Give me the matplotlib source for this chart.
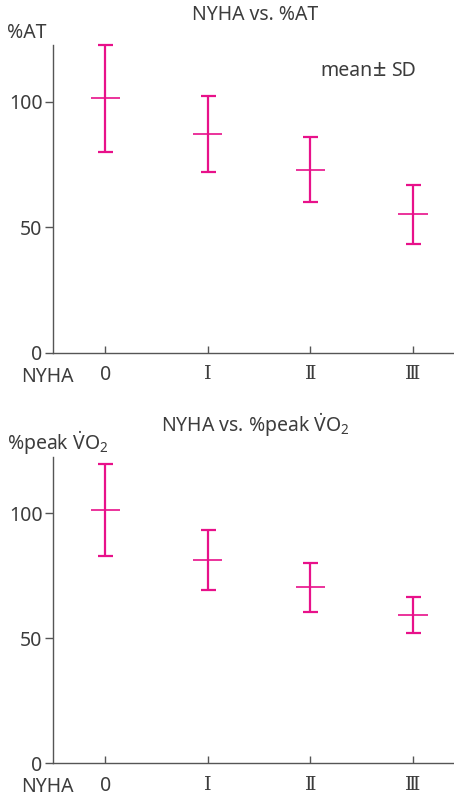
import matplotlib
matplotlib.use("Agg")
import matplotlib.pyplot as plt

plt.rcParams['font.family'] = ['Noto Sans', 'DejaVu Sans']
plt.rcParams['mathtext.fontset'] = 'custom'
plt.rcParams['mathtext.rm'] = 'Noto Sans'
plt.rcParams['mathtext.it'] = 'Noto Sans:italic'

# data
classes = ['0', 'Ⅰ', 'Ⅱ', 'Ⅲ']
at_mean = [101.5, 87.4, 73.0, 55.3]
at_upper = [122.7, 102.4, 86.1, 67.1]
at_lower = [80.1, 72.2, 60.3, 43.4]
vo2_mean = [101.3, 81.3, 70.4, 59.3]
vo2_upper = [119.7, 93.4, 80.2, 66.4]
vo2_lower = [82.9, 69.2, 60.5, 52.0]

PINK = '#e8118a'
TXT = '#3c3c3c'
AX = '#555555'
FS = 14
W, H = 454, 797

fig = plt.figure(figsize=(W / 100, H / 100), dpi=100)


def panel(bottom_px, top_px, mean, upper, lower):
    ax = fig.add_axes([53 / W, 1 - bottom_px / H, 1 - 53 / W, (bottom_px - top_px) / H])
    xs = list(range(len(classes)))
    lo = [m - l for m, l in zip(mean, lower)]
    hi = [u - m for m, u in zip(mean, upper)]
    ax.errorbar(xs, mean, yerr=[lo, hi], fmt='none', ecolor=PINK,
                elinewidth=1.6, capsize=5.4, capthick=1.6, clip_on=False)
    ax.hlines(mean, [x - 0.142 for x in xs], [x + 0.142 for x in xs],
              color=PINK, lw=1.2, clip_on=False)
    ax.set_xlim(-0.51, 3.40)
    ax.set_ylim(0, 122.7)
    for s in ['top', 'right']:
        ax.spines[s].set_visible(False)
    for s in ['left', 'bottom']:
        ax.spines[s].set_color(AX)
        ax.spines[s].set_linewidth(1.0)
    ax.set_yticks([0, 50, 100])
    ax.set_xticks(xs)
    ax.set_xticklabels(classes)
    for i, lab in enumerate(ax.get_xticklabels()):
        if i > 0:
            lab.set_fontfamily('DejaVu Serif')
            lab.set_fontsize(19)
    ax.tick_params(axis='y', direction='out', length=6, width=1.0, color=AX,
                   labelsize=FS, labelcolor=TXT, pad=1.5)
    ax.tick_params(axis='x', direction='in', length=5, width=1.0, color=AX,
                   labelsize=FS, labelcolor=TXT, pad=9)
    return ax


panel(353, 45, at_mean, at_upper, at_lower)
panel(763.3, 456.7, vo2_mean, vo2_upper, vo2_lower)


def ftext(x, y, s, size=FS, **kw):
    fig.text(x / W, 1 - y / H, s, color=TXT, fontsize=size, va='center', **kw)


ftext(255, 15, 'NYHA vs. %AT', ha='center')
ftext(7, 33, '%AT', ha='left')
ftext(320, 71, 'mean', ha='left')
ftext(380, 70, '±', ha='center', size=17)
ftext(391, 71, 'SD', ha='left')
ftext(21, 377, 'NYHA', ha='left')

ftext(255, 425, r'NYHA vs. %peak $\dot{\mathrm{V}}\mathrm{O}_2$', ha='center')
ftext(7, 443, r'%peak $\dot{\mathrm{V}}\mathrm{O}_2$', ha='left')
ftext(21, 787, 'NYHA', ha='left')

fig.savefig('out.png', dpi=100)
